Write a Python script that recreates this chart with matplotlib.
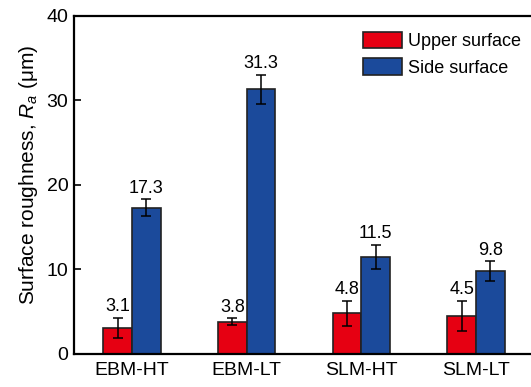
import matplotlib.pyplot as plt
import numpy as np

plt.rcParams['font.family'] = ['Liberation Sans', 'DejaVu Sans']
plt.rcParams['mathtext.fontset'] = 'custom'
plt.rcParams['mathtext.rm'] = 'Liberation Sans'
plt.rcParams['mathtext.it'] = 'Liberation Sans:italic'

# data
groups = ['EBM-HT', 'EBM-LT', 'SLM-HT', 'SLM-LT']
upper = [3.1, 3.8, 4.8, 4.5]
upper_err = [1.2, 0.4, 1.5, 1.8]
side = [17.3, 31.3, 11.5, 9.8]
side_err = [1.0, 1.7, 1.45, 1.15]

red = '#e60012'
blue = '#1b4a9b'

fig = plt.figure(figsize=(5.31, 3.87), dpi=100)
ax = fig.add_axes([0.1394, 0.0853, 0.865, 0.8734])

x = np.arange(len(groups))
w = 0.25
ekw = dict(elinewidth=1.1, capthick=1.1, ecolor='black')

ax.bar(x - w/2, upper, w, color=red, edgecolor='#222222', linewidth=1.2,
       yerr=upper_err, capsize=3.3, error_kw=ekw, label='Upper surface')
ax.bar(x + w/2, side, w, color=blue, edgecolor='#222222', linewidth=1.2,
       yerr=side_err, capsize=3.3, error_kw=ekw, label='Side surface')

# value labels above error bars
for xi, v, e in zip(x - w/2, upper, upper_err):
    ax.annotate(f'{v:.1f}', (xi, v + e), xytext=(0, 2), textcoords='offset points',
                ha='center', va='bottom', fontsize=13)
for xi, v, e in zip(x + w/2, side, side_err):
    ax.annotate(f'{v:.1f}', (xi, v + e), xytext=(0, 2), textcoords='offset points',
                ha='center', va='bottom', fontsize=13)

ax.set_xlim(-0.505, 3.5)
ax.set_ylim(0, 40)
ax.set_xticks(x)
ax.set_xticklabels(groups, fontsize=14)
ax.set_yticks([0, 10, 20, 30, 40])
ax.tick_params(axis='y', direction='in', length=5, width=1.2, labelsize=14, pad=4)
ax.tick_params(axis='x', length=0, pad=6)

ax.set_ylabel('Surface roughness, $R_a$ (μm)', fontsize=15, labelpad=5, y=0.53)

for s in ['left', 'bottom', 'top']:
    ax.spines[s].set_linewidth(1.6)
ax.spines['right'].set_visible(False)

ax.legend(loc='upper right', frameon=False, fontsize=13,
          handlelength=2.2, handleheight=1.0, handletextpad=0.3,
          labelspacing=0.45, borderaxespad=0.3, bbox_to_anchor=(1.0, 0.99))

fig.savefig('out.png', dpi=100)
